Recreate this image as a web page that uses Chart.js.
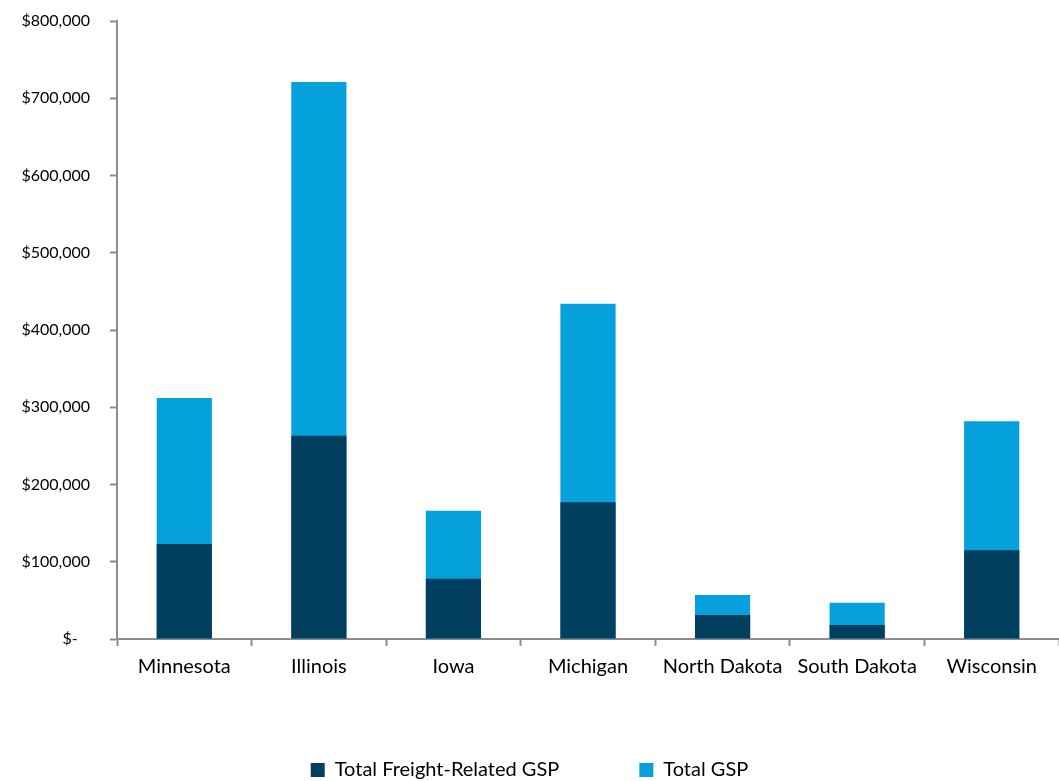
<!DOCTYPE html>
<html>
<head>
<meta charset="utf-8">
<script src="https://cdn.jsdelivr.net/npm/chart.js@4.4.1/dist/chart.umd.min.js"></script>
<style>
  html, body { margin: 0; padding: 0; background: #fff; }
  #wrap { width: 1059px; height: 781px; }
</style>
</head>
<body>
<div id="wrap"><canvas id="chart"></canvas></div>
<script>
const states = ['Minnesota', 'Illinois', 'Iowa', 'Michigan', 'North Dakota', 'South Dakota', 'Wisconsin']
const freightGsp = [123000, 263000, 78000, 177000, 31000, 18000, 115000]
const totalGsp = [312000, 721000, 166000, 434000, 57000, 47000, 282000]
const yTicks = [0, 100000, 200000, 300000, 400000, 500000, 600000, 700000, 800000]

const fontFamily = 'Lato, "Open Sans", sans-serif'
const axisGray = '#8c8c8c'

const formatMoney = (v) => {
  if (v === 0) return '$-   '
  return '$' + v.toLocaleString('en-US')
}

const init = function () {
  const ctx = document.querySelector('#chart')
  new Chart(ctx, {
    type: 'bar',
    data: {
      labels: states,
      datasets: [
        {
          label: 'Total Freight-Related GSP',
          data: freightGsp,
          backgroundColor: '#023f5e',
          barPercentage: 0.41,
          categoryPercentage: 1,
        },
        {
          label: 'Total GSP',
          data: totalGsp,
          backgroundColor: '#05a1dc',
          barPercentage: 0.41,
          categoryPercentage: 1,
        },
      ],
    },
    options: {
      responsive: true,
      maintainAspectRatio: false,
      animation: false,
      layout: { padding: { top: 21, right: 0, left: 0, bottom: -9 } },
      plugins: {
        tooltip: { enabled: false },
        legend: {
          position: 'bottom',
          labels: {
            color: '#000',
            font: { family: fontFamily, size: 20 },
            boxWidth: 14,
            boxHeight: 14,
            padding: 80,
          },
        },
      },
      scales: {
        x: {
          stacked: true,
          grid: {
            offset: true,
            drawOnChartArea: false,
            tickLength: 7,
            color: axisGray,
            tickWidth: 2,
          },
          border: { color: axisGray, width: 2 },
          ticks: {
            color: '#000',
            font: { family: fontFamily, size: 20 },
            padding: 9,
            maxRotation: 0,
            autoSkip: false,
          },
          afterFit: (scale) => {
            scale.height = 41
            scale.paddingLeft = 0
            scale.paddingRight = 0
          },
        },
        y: {
          stacked: false,
          min: 0,
          max: 800000,
          afterBuildTicks: (scale) => {
            scale.ticks = yTicks.map((v) => ({ value: v }))
          },
          grid: {
            drawOnChartArea: false,
            tickLength: 7,
            color: axisGray,
            tickWidth: 2,
          },
          border: { color: axisGray, width: 2 },
          ticks: {
            color: '#000',
            font: { family: fontFamily, size: 16 },
            padding: 20,
            callback: (v) => formatMoney(v),
          },
          afterFit: (scale) => {
            scale.width = 117
            scale.paddingTop = 0
            scale.paddingBottom = 0
          },
        },
      },
    },
  })
}

document.addEventListener('DOMContentLoaded', function () {
  init()
})
</script>
</body>
</html>
